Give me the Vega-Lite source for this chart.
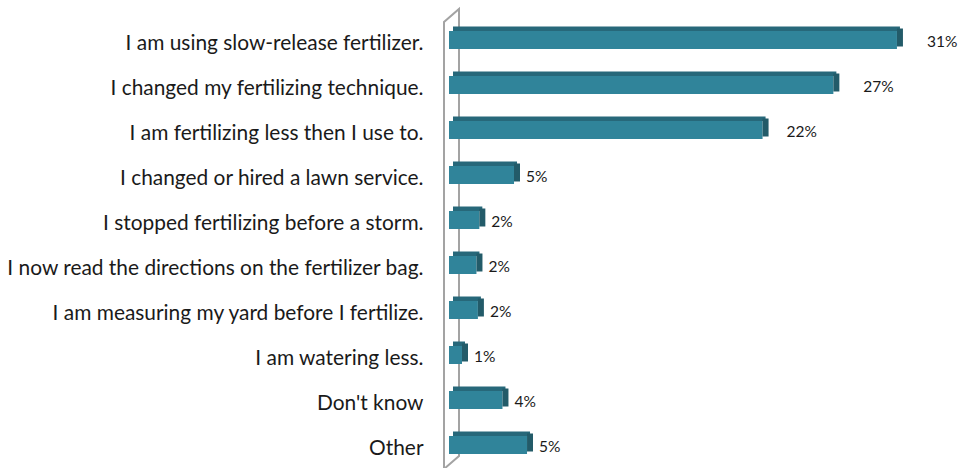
{
  "$schema": "https://vega.github.io/schema/vega-lite/v6.json",
  "autosize": {"type": "none"},
  "width": 505.75,
  "height": 450,
  "padding": {"left": 449, "top": 17.5, "right": 4.25, "bottom": 0.5},
  "background": "white",
  "config": {"view": {"stroke": null}, "font": "Lato"},
  "datasets": {
    "bars": [
      {"answer": "I am using slow-release fertilizer.", "pct": 31.0, "label": "31%"},
      {"answer": "I changed my fertilizing technique.", "pct": 26.6, "label": "27%"},
      {"answer": "I am fertilizing less then I use to.", "pct": 21.7, "label": "22%"},
      {"answer": "I changed or hired a lawn service.", "pct": 4.5, "label": "5%"},
      {"answer": "I stopped fertilizing before a storm.", "pct": 2.1, "label": "2%"},
      {"answer": "I now read the directions on the fertilizer bag.", "pct": 1.9, "label": "2%"},
      {"answer": "I am measuring my yard before I fertilize.", "pct": 2.0, "label": "2%"},
      {"answer": "I am watering less.", "pct": 0.9, "label": "1%"},
      {"answer": "Don't know", "pct": 3.7, "label": "4%"},
      {"answer": "Other", "pct": 5.4, "label": "5%"}
    ],
    "wall": [
      {"i": 0, "wx": -0.346, "wy": -0.0033},
      {"i": 1, "wx": -0.346, "wy": 0.99},
      {"i": 2, "wx": 0.692, "wy": 1.0189},
      {"i": 3, "wx": 0.692, "wy": 0.0256},
      {"i": 4, "wx": -0.346, "wy": -0.0033}
    ]
  },
  "layer": [
    {
      "data": {"name": "wall"},
      "mark": {"type": "line", "color": "#A3A3A3", "strokeWidth": 2, "clip": false},
      "encoding": {
        "x": {"field": "wx", "type": "quantitative", "scale": {"domain": [0, 35], "zero": false, "nice": false}, "axis": null},
        "y": {"field": "wy", "type": "quantitative", "scale": {"domain": [0, 1], "nice": false, "zero": false}, "axis": null},
        "order": {"field": "i", "type": "quantitative"}
      }
    },
    {
      "data": {"name": "bars"},
      "encoding": {
        "y": {
          "field": "answer", "type": "nominal", "sort": null,
          "scale": {"paddingInner": 0, "paddingOuter": 0},
          "axis": {
            "title": null, "domain": false, "ticks": false, "labelPadding": 26, "labelOffset": 4,
            "labelFontSize": 20.9, "labelColor": "#1a1a1a", "labelFont": "Lato", "labelLimit": 500
          }
        }
      },
      "layer": [
        {
          "mark": {"type": "bar", "height": 18, "color": "#30849A"},
          "encoding": {
            "x": {"field": "pct", "type": "quantitative", "scale": {"domain": [0, 35], "nice": false}, "axis": null}
          }
        },
        {
          "mark": {"type": "bar", "height": 4.5, "yOffset": -11.25, "xOffset": 3, "x2Offset": 4, "color": "#27687A"},
          "encoding": {
            "x": {"field": "pct", "type": "quantitative"},
            "x2": {"datum": 0}
          }
        },
        {
          "mark": {"type": "bar", "height": 18, "yOffset": -2.5, "x2Offset": 6, "color": "#235B69"},
          "encoding": {
            "x": {"field": "pct", "type": "quantitative"},
            "x2": {"field": "pct"}
          }
        },
        {
          "mark": {"type": "text", "align": "left", "baseline": "middle", "fontSize": 15.5, "color": "#1a1a1a", "font": "Lato", "dy": 2,
                   "dx": {"expr": "datum.pct > 25 ? 30 : (datum.pct > 15 ? 24 : 12)"}},
          "encoding": {
            "x": {"field": "pct", "type": "quantitative"},
            "text": {"field": "label"}
          }
        }
      ]
    }
  ],
  "resolve": {"scale": {"y": "independent"}}
}
